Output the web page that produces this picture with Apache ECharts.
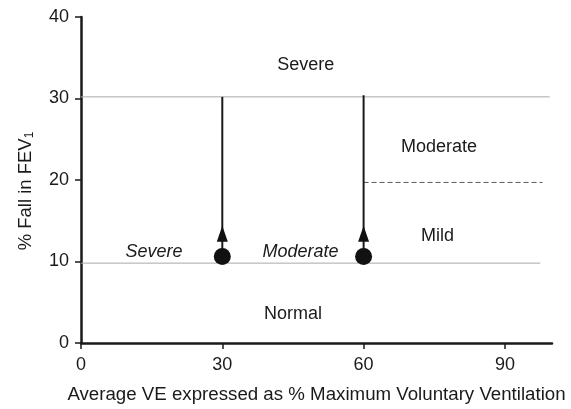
<!DOCTYPE html>
<html><head><meta charset="utf-8">
<script src="https://cdn.jsdelivr.net/npm/echarts@6/dist/echarts.min.js"></script>
<style>html,body{margin:0;padding:0;background:#fff}#c{width:571px;height:409px}</style>
</head><body><div id="c"></div>
<script>
const xTicks = [0, 30, 60, 90];
const yTicks = [0, 10, 20, 30, 40];
// threshold reference lines
const severeLine = [[0, 30.2], [99.5, 30.2]];
const normalLine = [[0, 9.8], [97.5, 9.8]];
const moderateLine = [[60, 19.7], [98, 19.7]];
// arrows: x position, start (dot), top, head
const arrowX = [30, 60];
const arrowBottom = [10.6, 10.6];
const arrowTop = [30.2, 30.4];
const arrowHead = [13.4, 13.4];
// zone labels
const zoneLabels = [
  {name: 'Severe', x: 47.7, y: 34.1, italic: false},
  {name: 'Moderate', x: 76, y: 24.1, italic: false},
  {name: 'Mild', x: 75.7, y: 13.1, italic: false},
  {name: 'Normal', x: 45, y: 3.5, italic: false},
  {name: 'Severe', x: 15.5, y: 11.2, italic: true},
  {name: 'Moderate', x: 46.6, y: 11.2, italic: true}
];

const FONT = '"Liberation Sans", Arial, Helvetica, sans-serif';
const INK = '#1a1a1a';
const chart = echarts.init(document.getElementById('c'), null, {renderer: 'canvas'});
const series = [];
[severeLine, normalLine].forEach(l => series.push({
  type: 'line', data: l, symbol: 'none', silent: true,
  lineStyle: {color: '#aaa', width: 1}
}));
series.push({type: 'line', data: moderateLine, symbol: 'none', silent: true,
  lineStyle: {color: '#555', width: 1, type: [5, 3]}});
arrowX.forEach((x, i) => {
  series.push({type: 'line', data: [[x, arrowBottom[i]], [x, arrowTop[i]]], symbol: 'none', silent: true,
    lineStyle: {color: INK, width: 2}});
});
series.push({type: 'scatter', silent: true, symbol: 'triangle', symbolSize: [11, 16],
  itemStyle: {color: '#111', opacity: 1}, data: arrowX.map((x, i) => [x, arrowHead[i]]), z: 5});
series.push({type: 'scatter', silent: true, symbol: 'circle', symbolSize: 17,
  itemStyle: {color: '#111', opacity: 1}, data: arrowX.map((x, i) => [x, arrowBottom[i]]), z: 5});
series.push({type: 'scatter', silent: true, symbolSize: 0,
  itemStyle: {opacity: 1, color: INK},
  data: zoneLabels.map(d => ({value: [d.x, d.y], name: d.name,
    label: {fontStyle: d.italic ? 'italic' : 'normal'}})),
  label: {show: true, position: 'inside', formatter: p => p.name, color: INK, opacity: 1,
    fontSize: 18, fontFamily: FONT}
});

chart.setOption({
  animation: false,
  backgroundColor: '#fff',
  grid: {left: 81, right: 19, top: 17, bottom: 64, containLabel: false},
  xAxis: {
    type: 'value', min: 0, max: 100, interval: 30,
    axisLine: {show: true, lineStyle: {color: INK, width: 2.5}},
    axisTick: {show: true, length: 6, lineStyle: {color: INK, width: 1.5}, customValues: xTicks},
    axisLabel: {color: INK, fontSize: 18, fontFamily: FONT, margin: 13, customValues: xTicks},
    splitLine: {show: false},
    name: 'Average VE expressed as % Maximum Voluntary Ventilation',
    nameLocation: 'middle', nameGap: 42,
    nameTextStyle: {color: INK, fontSize: 18.7, fontFamily: FONT}
  },
  yAxis: {
    type: 'value', min: 0, max: 40, interval: 10,
    axisLine: {show: true, lineStyle: {color: INK, width: 2.5}},
    axisTick: {show: true, length: 6, lineStyle: {color: INK, width: 1.5}, customValues: yTicks},
    axisLabel: {color: INK, fontSize: 18, fontFamily: FONT, margin: 12, customValues: yTicks},
    splitLine: {show: false},
    name: '{m|% Fall in FEV}{s|1}',
    nameLocation: 'middle', nameGap: 45, nameRotate: 90,
    nameTextStyle: {
      padding: [0, 22, 0, 0],
      rich: {
        m: {color: INK, fontSize: 18.5, fontFamily: FONT},
        s: {color: INK, fontSize: 12, fontFamily: FONT, verticalAlign: 'bottom', padding: [9, 0, 0, 0]}
      }
    }
  },
  series: series
});
</script></body></html>
